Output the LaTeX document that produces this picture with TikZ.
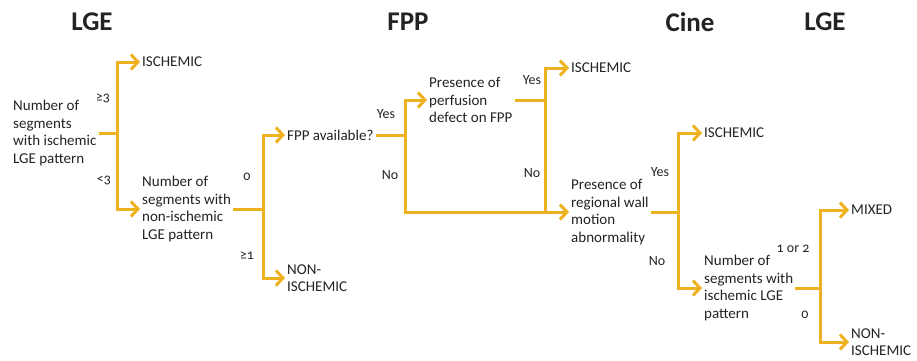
\documentclass[tikz,border=0pt]{standalone}
\usepackage{fontspec}
\setmainfont{Carlito}[Numbers=OldStyle]
\usetikzlibrary{arrows.meta}

\definecolor{goldline}{RGB}{238,178,32}
\definecolor{darktext}{RGB}{35,35,35}

\begin{document}
\begin{tikzpicture}[
    x=1pt, y=-1pt,
    every node/.style={inner sep=2pt, text=darktext},
    textbox/.style={anchor=west, align=left, font=\fontsize{15}{17.5}\selectfont},
    title/.style={font=\fontsize{27}{30}\selectfont\bfseries},
    branchlabel/.style={font=\fontsize{14}{16}\selectfont},
    branch/.style={draw=goldline, line width=3pt},
    line/.style={draw=goldline, line width=3pt, -{Straight Barb[length=7pt, width=15pt]}}
]
\useasboundingbox (0,0) rectangle (917,360);

% Titles of the stages
\node[title] (t1) at (92,22) {LGE};
\node[title] (t2) at (408,22) {FPP};
\node[title] (t3) at (690,22) {Cine};
\node[title] (t4) at (825,22) {LGE};

% Questions and outcomes
\node[textbox] (q1) at (11,133) {Number of\\segments\\with ischemic\\LGE pattern};
\node[textbox] (isch1) at (140,62) {ISCHEMIC};
\node[textbox] (q2) at (140,209) {Number of\\segments with\\non-ischemic\\LGE pattern};
\node[textbox] (fpp) at (285,135) {FPP available?};
\node[textbox] (nonisch1) at (285,278) {NON-\\ISCHEMIC};
\node[textbox] (perf) at (427,100) {Presence of\\perfusion\\defect on FPP};
\node[textbox] (isch2) at (569,68) {ISCHEMIC};
\node[textbox] (wall) at (569,212) {Presence of\\regional wall\\motion\\abnormality};
\node[textbox] (isch3) at (702,133) {ISCHEMIC};
\node[textbox] (q3) at (702,288) {Number of\\segments with\\ischemic LGE\\pattern};
\node[textbox] (mixed) at (849,210) {MIXED};
\node[textbox] (nonisch2) at (849,342) {NON-\\ISCHEMIC};

% Branch points
\coordinate (j1) at (117,133);
\coordinate (j2) at (263,209);
\coordinate (j3) at (405,135);
\coordinate (j4) at (545,100);
\coordinate (j5) at (678,212);
\coordinate (j6) at (820,288);

% Connectors
\path[branch] (q1.east) -- (j1);
\path[line] (j1) |- (isch1.west);
\path[line] (j1) |- (q2.west);
\path[branch] (q2.east) -- (j2);
\path[line] (j2) |- (fpp.west);
\path[line] (j2) |- (nonisch1.west);
\path[branch] (fpp.east) -- (j3);
\path[line] (j3) |- (perf.west);
\path[line] (j3) |- (wall.west);
\path[branch] (perf.east) -- (j4);
\path[line] (j4) |- (isch2.west);
\path[branch] (j4) -- (j4 |- wall.west);
\path[branch] (wall.east) -- (j5);
\path[line] (j5) |- (isch3.west);
\path[line] (j5) |- (q3.west);
\path[branch] (q3.east) -- (j6);
\path[line] (j6) |- (mixed.west);
\path[line] (j6) |- (nonisch2.west);

% Branch labels
\node[branchlabel] (l1) at (103,98) {≥3};
\node[branchlabel] (l2) at (104,180) {<3};
\node[branchlabel] (l3) at (247,177) {0};
\node[branchlabel] (l4) at (247,256) {≥1};
\node[branchlabel] (l5) at (386,114) {Yes};
\node[branchlabel] (l6) at (390,175) {No};
\node[branchlabel] (l7) at (532,80) {Yes};
\node[branchlabel] (l8) at (532,173) {No};
\node[branchlabel] (l9) at (660,172) {Yes};
\node[branchlabel] (l10) at (657,261) {No};
\node[branchlabel] (l11) at (793,249) {1 or 2};
\node[branchlabel] (l12) at (805,315) {0};

\end{tikzpicture}
\end{document}
